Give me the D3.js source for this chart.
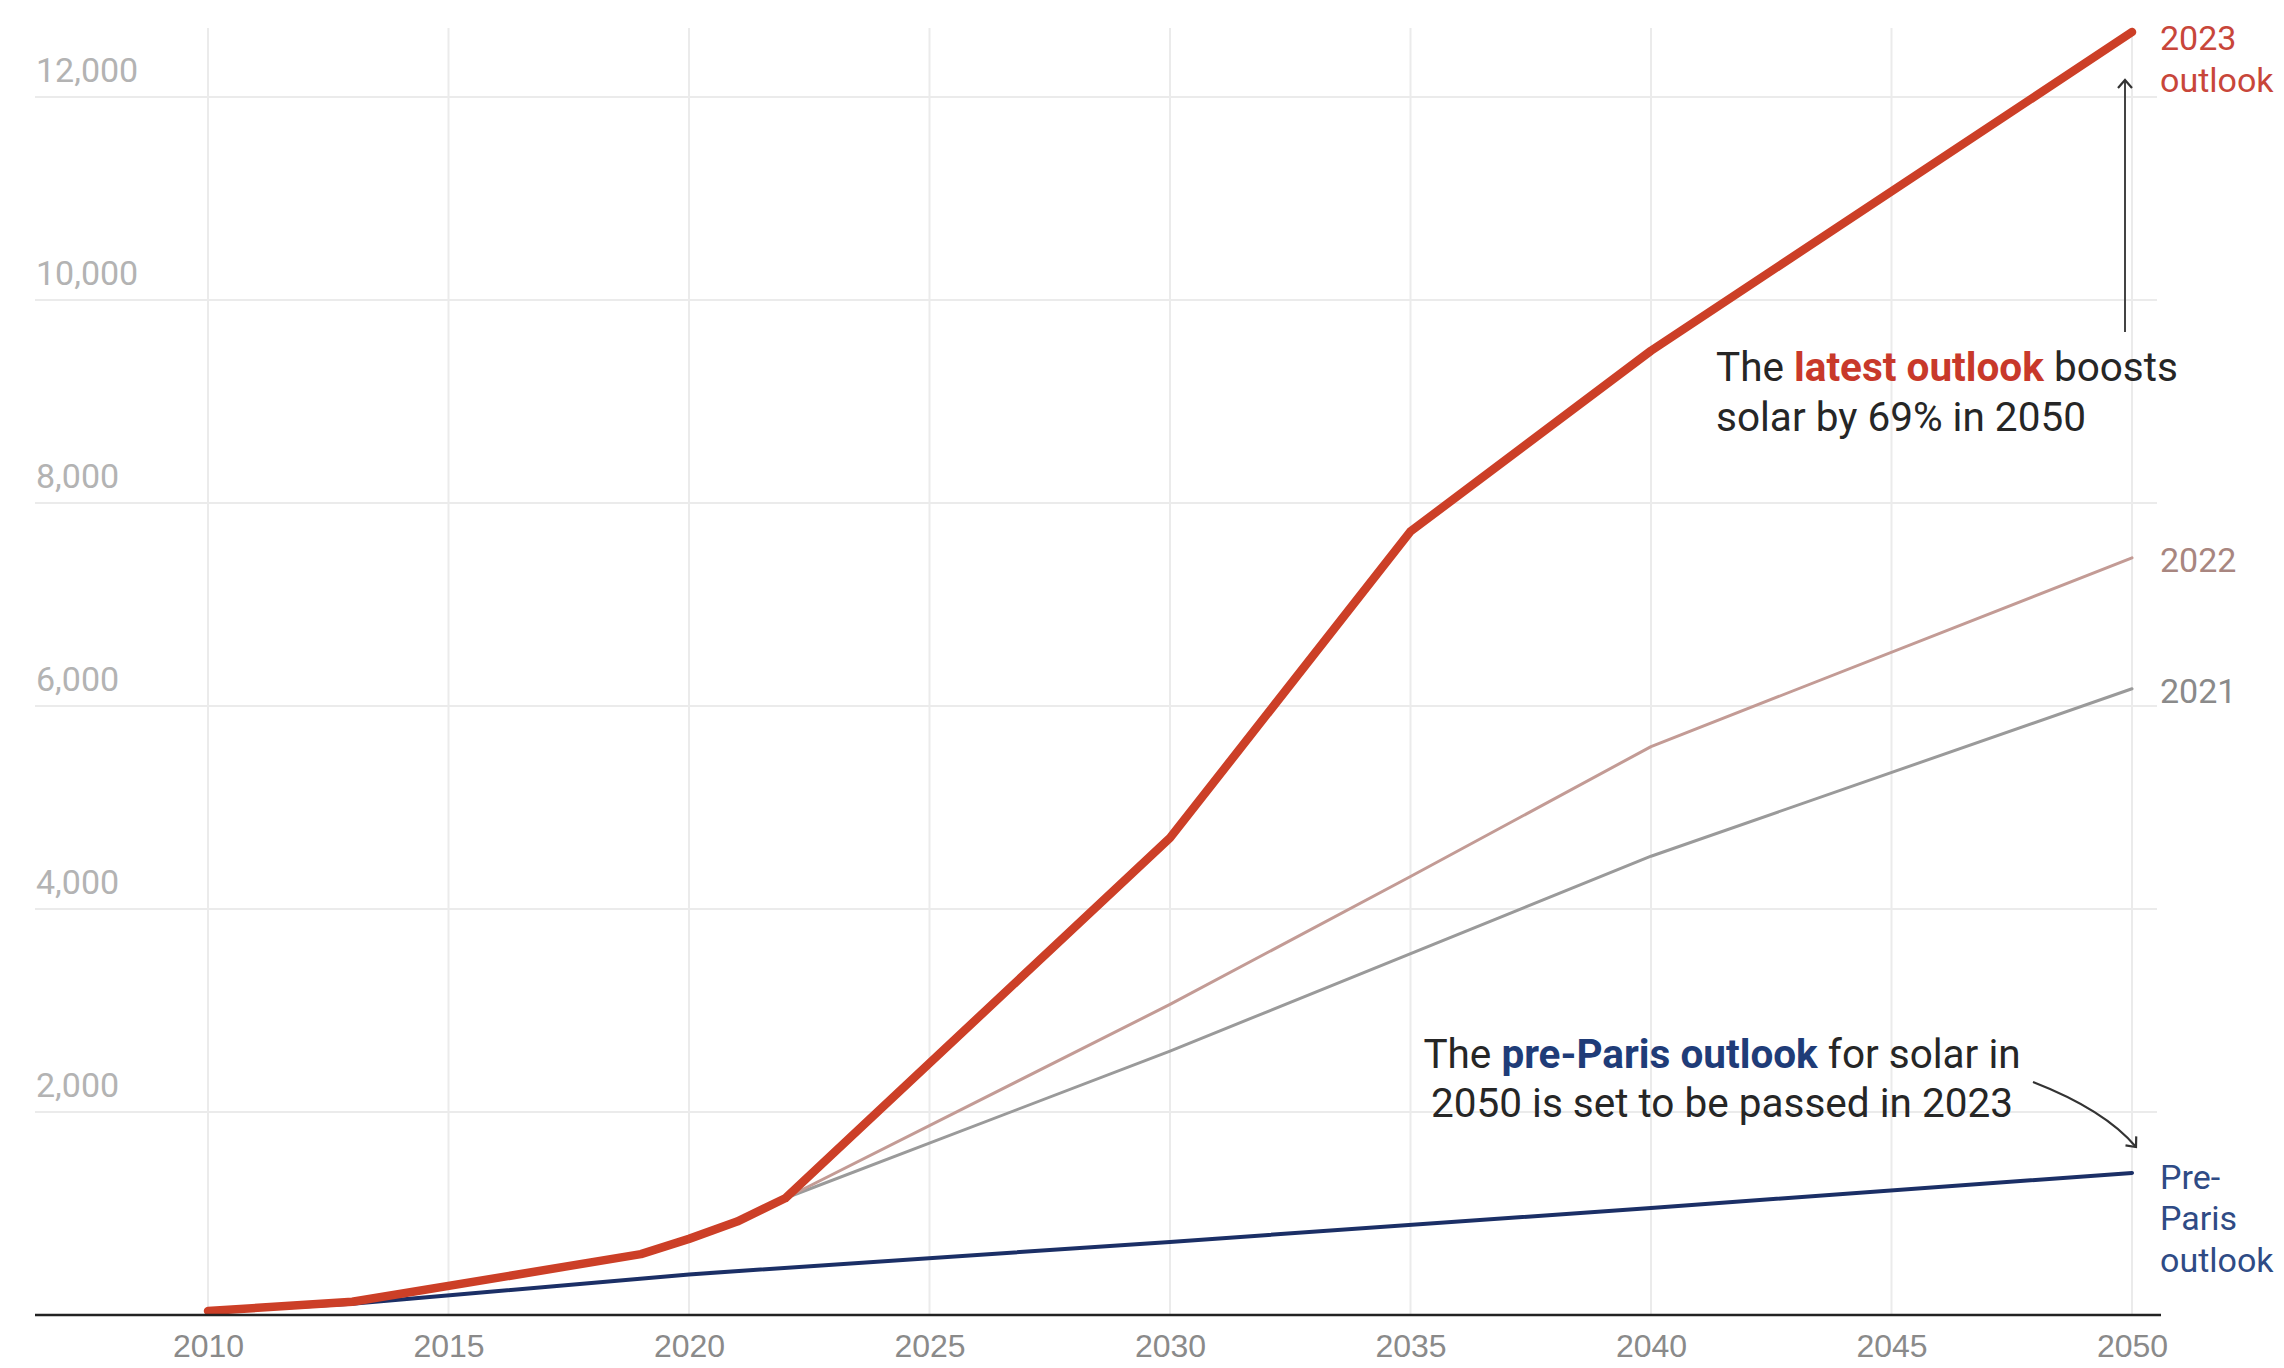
<!DOCTYPE html>
<html>
<head>
<meta charset="utf-8">
<script src="https://cdn.jsdelivr.net/npm/d3@7"></script>
<style>
  body { margin: 0; background: #fff; }
  svg { display: block; font-family: Roboto, "Noto Sans", sans-serif; }
  .grid line { stroke: #ebebeb; stroke-width: 2; }
  .ylab { fill: #b3b3b3; font-size: 34px; }
  .xlab { fill: #8a8a8a; font-size: 32px; }
  .note { fill: #262626; font-size: 40.5px; }
  .endlab { font-size: 34px; }
</style>
</head>
<body>
<div id="chart"></div>
<script>
/* Data *************************************************************************/

// 2023 outlook (historical to 2022, then projection)
var years_2023 = [2010, 2013, 2019, 2020, 2021, 2022, 2030, 2035, 2040, 2050],
    values_2023 = [40, 130, 600, 750, 920, 1150, 4700, 7720, 9500, 12640];

// 2022 and 2021 outlooks branch off at 2022
var years_2022 = [2022, 2030, 2035, 2040, 2050],
    values_2022 = [1150, 3060, 4320, 5600, 7460];

var years_2021 = [2022, 2030, 2040, 2050],
    values_2021 = [1150, 2600, 4520, 6170];

// pre-Paris outlook
var years_pre = [2010, 2013, 2020, 2030, 2040, 2050],
    values_pre = [30, 110, 400, 720, 1055, 1400];

var x_ticks = [2010, 2015, 2020, 2025, 2030, 2035, 2040, 2045, 2050],
    y_ticks = [2000, 4000, 6000, 8000, 10000, 12000];

/* Plot *************************************************************************/

function build_chart()
{
    let width = 2284,
        height = 1368;

    let svg = d3.select('#chart').append('svg')
        .attr('width', width)
        .attr('height', height);

    let x = d3.scaleLinear().domain([2010, 2050]).range([208, 2132]),
        y = d3.scaleLinear().domain([0, 12000]).range([1315, 97]);

    let grid_left = 35,
        grid_right = 2157,
        grid_top = 28;

    let line = d3.line()
        .x(d => x(d[0]))
        .y(d => y(d[1]));

    let zip = (xs, ys) => xs.map((v, i) => [v, ys[i]]);

    // grid lines
    let grid = svg.append('g').attr('class', 'grid');

    grid.selectAll('line.v').data(x_ticks).enter()
        .append('line')
        .attr('class', 'v')
        .attr('x1', d => x(d)).attr('x2', d => x(d))
        .attr('y1', grid_top).attr('y2', y(0));

    grid.selectAll('line.h').data(y_ticks).enter()
        .append('line')
        .attr('class', 'h')
        .attr('x1', grid_left).attr('x2', grid_right)
        .attr('y1', d => y(d)).attr('y2', d => y(d));

    // y tick labels, sitting above the grid line
    svg.append('g').selectAll('text').data(y_ticks).enter()
        .append('text')
        .attr('class', 'ylab')
        .attr('x', 36)
        .attr('y', d => y(d) - 15)
        .text(d3.format(','));

    // x axis via d3.axisBottom, then restyled
    let xaxis = svg.append('g')
        .attr('transform', `translate(0, ${y(0)})`)
        .call(d3.axisBottom(x).tickValues(x_ticks).tickFormat(d3.format('d')).tickSize(0).tickPadding(0));

    xaxis.select('.domain').remove();
    xaxis.selectAll('text')
        .attr('class', 'xlab')
        .attr('fill', null)
        .attr('font-size', null)
        .attr('font-family', null)
        .attr('dy', null)
        .attr('y', 42);

    // lines
    let series = [
        { pts: zip(years_pre, values_pre),   color: '#1b2f66', w: 4 },
        { pts: zip(years_2021, values_2021), color: '#9a9a9a', w: 3 },
        { pts: zip(years_2022, values_2022), color: '#c39b95', w: 3 },
        { pts: zip(years_2023, values_2023), color: '#cc3f27', w: 8.5 }
    ];

    svg.append('g').selectAll('path').data(series).enter()
        .append('path')
        .attr('d', s => line(s.pts))
        .attr('fill', 'none')
        .attr('stroke', s => s.color)
        .attr('stroke-width', s => s.w)
        .attr('stroke-linejoin', 'round')
        .attr('stroke-linecap', 'round');

    // baseline
    svg.append('line')
        .attr('x1', grid_left).attr('x2', grid_right + 4)
        .attr('y1', y(0)).attr('y2', y(0))
        .attr('stroke', '#222')
        .attr('stroke-width', 2.5);

    // end labels
    let end_labels = [
        { lines: ['2023', 'outlook'],           v: 12640, dy: 18,  color: '#c8463a' },
        { lines: ['2022'],                      v: 7460,  dy: 14,  color: '#a88680' },
        { lines: ['2021'],                      v: 6170,  dy: 14,  color: '#8a8a8a' },
        { lines: ['Pre-', 'Paris', 'outlook'],  v: 1400,  dy: 16,  color: '#2f4b85' }
    ];

    end_labels.forEach(l => {
        let t = svg.append('text')
            .attr('class', 'endlab')
            .attr('fill', l.color)
            .attr('x', x(2050) + 28)
            .attr('y', y(l.v) + l.dy);
        l.lines.forEach((s, i) => {
            t.append('tspan')
                .attr('x', x(2050) + 28)
                .attr('dy', i == 0 ? 0 : 41.5)
                .text(s);
        });
    });

    // annotation: latest outlook
    let n1 = svg.append('text').attr('class', 'note').attr('x', 1716).attr('y', 381);
    n1.append('tspan').text('The ');
    n1.append('tspan').attr('font-weight', 'bold').attr('fill', '#c8392a').text('latest outlook');
    n1.append('tspan').text(' boosts');
    svg.append('text').attr('class', 'note').attr('x', 1716).attr('y', 431)
        .text('solar by 69% in 2050');

    // annotation: pre-Paris
    let n2 = svg.append('text').attr('class', 'note').attr('x', 1722).attr('y', 1068)
        .attr('text-anchor', 'middle');
    n2.append('tspan').text('The ');
    n2.append('tspan').attr('font-weight', 'bold').attr('fill', '#1f3c78').text('pre-Paris outlook');
    n2.append('tspan').text(' for solar in');
    svg.append('text').attr('class', 'note').attr('x', 1722).attr('y', 1117)
        .attr('text-anchor', 'middle')
        .text('2050 is set to be passed in 2023');

    // arrows
    svg.append('defs').append('marker')
        .attr('id', 'head')
        .attr('viewBox', '-10 -10 20 20')
        .attr('refX', 0).attr('refY', 0)
        .attr('markerWidth', 20).attr('markerHeight', 20)
        .attr('markerUnits', 'userSpaceOnUse')
        .attr('orient', 'auto')
        .append('path')
        .attr('d', 'M-8,-7 L0,0 L-8,7')
        .attr('fill', 'none')
        .attr('stroke', '#333')
        .attr('stroke-width', 2.2);

    svg.append('path')
        .attr('d', `M${x(2050) - 7},332 L${x(2050) - 7},80`)
        .attr('stroke', '#444')
        .attr('stroke-width', 2)
        .attr('fill', 'none')
        .attr('marker-end', 'url(#head)');

    svg.append('path')
        .attr('d', 'M2033,1082 Q2105,1110 2136,1147')
        .attr('stroke', '#333')
        .attr('stroke-width', 2.2)
        .attr('fill', 'none')
        .attr('marker-end', 'url(#head)');
}

build_chart();
</script>
</body>
</html>
